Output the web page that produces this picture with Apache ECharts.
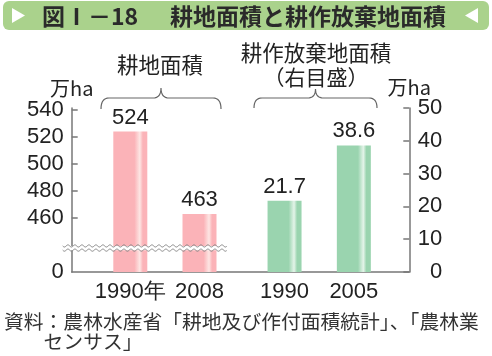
<!DOCTYPE html>
<html>
<head>
<meta charset="utf-8">
<script src="https://cdn.jsdelivr.net/npm/echarts@6/dist/echarts.min.js"></script>
<style>
html,body{margin:0;padding:0;background:#fff;}
#c{width:492px;height:356px;}
</style>
</head>
<body>
<div id="c"></div>
<script>
// ---- data ----
const titleNumber = '図Ⅰ－18';
const titleText = '耕地面積と耕作放棄地面積';
const leftGroupLabel = '耕地面積';
const rightGroupLabel = ['耕作放棄地面積', '（右目盛）'];
const unitLabel = '万ha';
const farmlandYears = ['1990年', '2008'];
const farmlandArea = [524, 463];
const abandonedYears = ['1990', '2005'];
const abandonedArea = [21.7, 38.6];
const leftTickValues = [460, 480, 500, 520, 540];
const leftLabelValues = [420, 460, 480, 500, 520, 540];
const sourceText = '資料：農林水産省「耕地及び作付面積統計」、「農林業\n　　センサス」';

const NUM_FONT = 'Liberation Sans';
const JP_FONT = '"Noto Sans CJK JP"';

const chart = echarts.init(document.getElementById('c'), null, {renderer: 'canvas'});

function grad(base, light) {
  return new echarts.graphic.LinearGradient(0, 0, 1, 0, [
    {offset: 0, color: base},
    {offset: 0.62, color: base},
    {offset: 0.78, color: light},
    {offset: 0.87, color: base},
    {offset: 1, color: base}
  ]);
}

const axisColor = '#777';
const gridTop = 108, gridBottom = 84;
const xLabelStyle = {fontFamily: NUM_FONT, fontSize: 22, color: '#222', margin: 9, interval: 0};

chart.setOption({
  animation: false,
  grid: [
    {left: 95.7, width: 138.4, top: gridTop, bottom: gridBottom},
    {left: 249.9, width: 138.6, top: gridTop, bottom: gridBottom},
    {left: 71.7, width: 337.6, top: gridTop, bottom: gridBottom}
  ],
  xAxis: [
    {type: 'category', gridIndex: 0, data: farmlandYears,
     axisLine: {show: false}, axisTick: {show: false}, axisLabel: xLabelStyle},
    {type: 'category', gridIndex: 1, data: abandonedYears,
     axisLine: {show: false}, axisTick: {show: false}, axisLabel: xLabelStyle},
    {type: 'category', gridIndex: 2, data: [''],
     axisLine: {show: true, lineStyle: {color: axisColor, width: 1.5}},
     axisTick: {show: false}, axisLabel: {show: false}}
  ],
  yAxis: [
    {type: 'value', gridIndex: 0, position: 'left', offset: 24,
     min: 420, max: 541.5,
     name: unitLabel, nameLocation: 'end', nameGap: 10,
     nameTextStyle: {fontFamily: JP_FONT, fontSize: 20, color: '#222'},
     splitLine: {show: false},
     axisLine: {show: true, lineStyle: {color: axisColor, width: 1.5}},
     axisTick: {show: true, inside: true, length: 6, customValues: leftTickValues,
                lineStyle: {color: axisColor, width: 1.5}},
     axisLabel: {customValues: leftLabelValues, fontFamily: NUM_FONT, fontSize: 22,
                 color: '#222', margin: 8,
                 formatter: v => (v < 450 ? '0' : String(v))}},
    {type: 'value', gridIndex: 1, position: 'right', offset: 20.8,
     min: 0, max: 50, interval: 10,
     name: unitLabel, nameLocation: 'end', nameGap: 8,
     nameTextStyle: {fontFamily: JP_FONT, fontSize: 20, color: '#222'},
     splitLine: {show: false},
     axisLine: {show: true, lineStyle: {color: axisColor, width: 1.5}},
     axisTick: {show: true, inside: true, length: 6, lineStyle: {color: axisColor, width: 1.5}},
     axisLabel: {fontFamily: NUM_FONT, fontSize: 22, color: '#222', margin: 33, align: 'right'}},
    {type: 'value', gridIndex: 2, show: false, min: 0, max: 1}
  ],
  series: [
    {type: 'bar', xAxisIndex: 0, yAxisIndex: 0, data: farmlandArea, barWidth: 34,
     itemStyle: {color: grad('#FBB3B8', '#FDE6E4')},
     label: {show: true, position: 'top', distance: 3, fontFamily: NUM_FONT,
             fontSize: 22, color: '#222'}},
    {type: 'bar', xAxisIndex: 1, yAxisIndex: 1, data: abandonedArea, barWidth: 34,
     itemStyle: {color: grad('#9AD4AF', '#E4F4E9')},
     label: {show: true, position: 'top', distance: 3, fontFamily: NUM_FONT,
             fontSize: 22, color: '#222'}}
  ]
});

// ---- decorations ----
function quad(p0, c, p1, n) {
  const out = [];
  for (let i = 1; i <= n; i++) {
    const t = i / n, u = 1 - t;
    out.push([u * u * p0[0] + 2 * u * t * c[0] + t * t * p1[0],
              u * u * p0[1] + 2 * u * t * c[1] + t * t * p1[1]]);
  }
  return out;
}
function brace(x0, x1, yEnd, yH, yPeak) {
  const cx = (x0 + x1) / 2, r = 8;
  let pts = [[x0, yEnd]];
  pts = pts.concat(quad([x0, yEnd], [x0, yH], [x0 + r, yH], 8));
  pts.push([cx - r, yH]);
  pts = pts.concat(quad([cx - r, yH], [cx, yH], [cx, yPeak], 8));
  pts = pts.concat(quad([cx, yPeak], [cx, yH], [cx + r, yH], 8));
  pts.push([x1 - r, yH]);
  pts = pts.concat(quad([x1 - r, yH], [x1, yH], [x1, yEnd], 8));
  return pts;
}

function wave(x0, x1, y) {
  const pts = [];
  for (let x = x0; x <= x1; x += 1) {
    pts.push([x, y + Math.sin((x - x0) / 7 * 2 * Math.PI) * 1.1]);
  }
  return pts;
}

const leftAxisX = 71.7;
const yBreakTop = chart.convertToPixel({yAxisIndex: 0}, 439.3);
const yBreakBot = chart.convertToPixel({yAxisIndex: 0}, 436.2);
const breakX0 = leftAxisX - 9, breakX1 = 227;

chart.setOption({
  graphic: [
    {type: 'rect', shape: {x: 3, y: 1, width: 486, height: 29, r: 6},
     style: {fill: '#AAD28C'}, z: 0},
    {type: 'polygon', shape: {points: [[12, 8], [25, 15.5], [12, 23]]}, style: {fill: '#fff'}},
    {type: 'polygon', shape: {points: [[478, 8], [465, 15.5], [478, 23]]}, style: {fill: '#fff'}},
    {type: 'text', x: 42, y: 16,
     style: {text: titleNumber, fontFamily: JP_FONT, fontSize: 23, fontWeight: 'bold',
             fill: '#2a2a2a', verticalAlign: 'middle'}},
    {type: 'text', x: 170, y: 16,
     style: {text: titleText, fontFamily: JP_FONT, fontSize: 23, fontWeight: 'bold',
             fill: '#2a2a2a', verticalAlign: 'middle'}},
    {type: 'text', x: 160, y: 65,
     style: {text: leftGroupLabel, fontFamily: JP_FONT, fontSize: 21.5, fill: '#222',
             align: 'center', verticalAlign: 'middle'}},
    {type: 'text', x: 316, y: 53,
     style: {text: rightGroupLabel[0], fontFamily: JP_FONT, fontSize: 21.5, fill: '#222',
             align: 'center', verticalAlign: 'middle'}},
    {type: 'text', x: 316, y: 77,
     style: {text: rightGroupLabel[1], fontFamily: JP_FONT, fontSize: 21, fill: '#222',
             align: 'center', verticalAlign: 'middle'}},
    {type: 'polyline', shape: {points: brace(101, 221, 109, 98, 88)},
     style: {stroke: '#666', lineWidth: 1.2, fill: null}},
    {type: 'polyline', shape: {points: brace(254, 377, 108, 98, 89)},
     style: {stroke: '#666', lineWidth: 1.2, fill: null}},
    {type: 'rect', shape: {x: breakX0, y: yBreakTop, width: breakX1 - breakX0, height: yBreakBot - yBreakTop},
     style: {fill: '#fff'}, z: 50},
    {type: 'polyline', shape: {points: wave(breakX0, breakX1, yBreakTop)},
     style: {stroke: '#888', lineWidth: 1, fill: null}, z: 51},
    {type: 'polyline', shape: {points: wave(breakX0, breakX1, yBreakBot)},
     style: {stroke: '#888', lineWidth: 1, fill: null}, z: 51},
    {type: 'text', x: 4, y: 311,
     style: {text: sourceText, fontFamily: JP_FONT, fontSize: 19.8, lineHeight: 20,
             fill: '#333', verticalAlign: 'top'}}
  ]
});
</script>
</body>
</html>
